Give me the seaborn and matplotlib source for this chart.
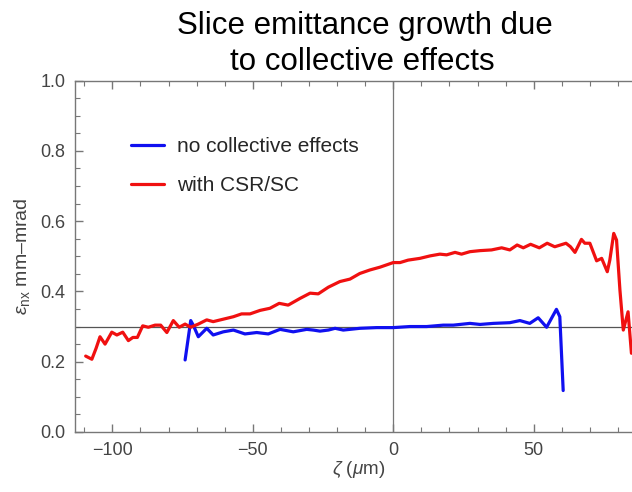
import matplotlib
matplotlib.use("Agg")
import matplotlib.pyplot as plt
import seaborn as sns
import pandas as pd
from matplotlib.lines import Line2D
from matplotlib.ticker import MultipleLocator

# ---- data ----
red_x = [-109.5, -107.3, -105.8, -104.4, -102.6, -100.2, -98.4, -96.3, -94.3, -92.7,
         -91.1, -89.2, -87.2, -84.8, -82.8, -80.6, -78.3, -76.2, -74.1, -72.1,
         -69.4, -66.4, -64.1, -60.5, -56.9, -54.0, -51.0, -47.4, -43.9, -40.6,
         -37.4, -33.2, -29.6, -26.7, -23.1, -19.0, -15.4, -11.9, -8.3, -4.7,
         0.0, 2.4, 5.3, 9.5, 13.1, 16.6, 19.0, 22.0, 24.3, 27.3,
         30.9, 35.0, 38.6, 41.5, 44.1, 46.3, 48.9, 52.0, 54.8, 57.5,
         61.5, 63.1, 64.7, 67.0, 68.2, 70.0, 72.4, 74.2, 76.2, 77.1,
         78.5, 79.5, 80.7, 81.9, 83.6, 84.8]
red_y = [0.216, 0.207, 0.238, 0.271, 0.250, 0.284, 0.276, 0.284, 0.260, 0.269,
         0.269, 0.302, 0.298, 0.304, 0.304, 0.283, 0.317, 0.298, 0.307, 0.298,
         0.307, 0.319, 0.314, 0.321, 0.328, 0.336, 0.336, 0.346, 0.352, 0.366,
         0.361, 0.380, 0.395, 0.393, 0.412, 0.428, 0.435, 0.451, 0.461, 0.469,
         0.482, 0.482, 0.489, 0.494, 0.501, 0.506, 0.504, 0.511, 0.506, 0.513,
         0.516, 0.518, 0.524, 0.518, 0.532, 0.524, 0.534, 0.524, 0.537, 0.527,
         0.537, 0.527, 0.511, 0.548, 0.537, 0.537, 0.487, 0.494, 0.456, 0.489,
         0.565, 0.546, 0.404, 0.290, 0.342, 0.224]

blue_x = [-74.1, -72.1, -71.2, -69.4, -66.4, -64.1, -60.5, -56.9, -52.8, -48.6,
          -44.5, -40.3, -35.6, -30.8, -28.5, -26.1, -23.1, -20.7, -17.8, -11.9,
          -5.9, 0.0, 5.9, 11.9, 17.8, 21.4, 27.3, 30.9, 35.6, 41.5,
          45.1, 48.6, 51.6, 54.6, 58.1, 59.3, 60.5]
blue_y = [0.205, 0.317, 0.304, 0.271, 0.295, 0.276, 0.285, 0.290, 0.279, 0.283,
          0.279, 0.292, 0.285, 0.292, 0.290, 0.287, 0.290, 0.295, 0.290, 0.295,
          0.297, 0.297, 0.300, 0.300, 0.304, 0.304, 0.309, 0.306, 0.309, 0.311,
          0.317, 0.309, 0.325, 0.298, 0.349, 0.328, 0.118]

labels = ["no collective effects", "with CSR/SC"]
colors = ["#1010f0", "#f01010"]
title_lines = ["Slice emittance growth due", "to collective effects"]
x_ticks = [-100, -50, 0, 50]
x_tick_labels = ["\u2212100", "\u221250", "0", "50"]
y_ticks = [0.0, 0.2, 0.4, 0.6, 0.8, 1.0]
ref_y = 0.3

# ---- figure ----
sns.set_style("white")
plt.rcParams["font.family"] = ["Liberation Sans", "DejaVu Sans"]
plt.rcParams["mathtext.fontset"] = "custom"
plt.rcParams["mathtext.rm"] = "Liberation Sans"
plt.rcParams["mathtext.it"] = "Liberation Sans:italic"

W, H = 632, 492
fig = plt.figure(figsize=(W / 100, H / 100), dpi=100)
ax = fig.add_axes([75 / W, 1 - 432 / H, (W - 75) / W, (432 - 80.5) / H])

df_blue = pd.DataFrame({"x": blue_x, "y": blue_y})
df_red = pd.DataFrame({"x": red_x, "y": red_y})
sns.lineplot(data=df_blue, x="x", y="y", ax=ax, color=colors[0], lw=2.3,
             estimator=None, sort=False)
sns.lineplot(data=df_red, x="x", y="y", ax=ax, color=colors[1], lw=2.3,
             estimator=None, sort=False)

ax.axhline(ref_y, color="#555555", lw=0.9, zorder=1)
ax.axvline(0, color="#777777", lw=0.9, zorder=1)

ax.set_xlim(-113.3, 85.0)
ax.set_ylim(0, 1.0)
ax.set_xticks(x_ticks)
ax.set_yticks(y_ticks)
ax.set_xticklabels(x_tick_labels)
ax.set_yticklabels([f"{v:.1f}" for v in y_ticks])
ax.xaxis.set_minor_locator(MultipleLocator(10))
ax.yaxis.set_minor_locator(MultipleLocator(0.05))

spine_c = "#777777"
for s in ["left", "bottom", "top"]:
    ax.spines[s].set_visible(True)
    ax.spines[s].set_color(spine_c)
    ax.spines[s].set_linewidth(1.0)
ax.spines["right"].set_visible(False)

ax.tick_params(which="both", direction="in", colors=spine_c, labelcolor="#444444",
               top=True, bottom=True, left=True, right=False, labelsize=13)
ax.tick_params(which="major", length=6, width=1.0, pad=7)
ax.tick_params(which="minor", length=3.5, width=0.8)

ax.set_xlabel("")
ax.set_ylabel("")
fig.text(359 / W, 1 - 470 / H, r"$\it{\zeta}$ ($\it{\mu}$m)", ha="center", va="center",
         fontsize=13.5, color="#444444")
fig.text(22 / W, 1 - 256 / H, r"$\varepsilon_{\rm nx}$ mm" + "\u2013" + "mrad",
         rotation=90, ha="center", va="center", fontsize=14, color="#444444")

fig.text(365 / W, 1 - 34 / H, title_lines[0], ha="center", va="baseline",
         fontsize=22.5, color="black")
fig.text(362 / W, 1 - 70 / H, title_lines[1], ha="center", va="baseline",
         fontsize=22.5, color="black")

handles = [Line2D([0], [0], color=c, lw=2.3) for c in colors]
ax.legend(handles, labels, loc="upper left", bbox_to_anchor=(131 / W, 1 - 137 / H),
          bbox_transform=fig.transFigure, frameon=False, fontsize=15,
          handlelength=1.57, handletextpad=0.63, borderpad=0, borderaxespad=0,
          labelspacing=0.95)

fig.savefig("out.png", dpi=100)
